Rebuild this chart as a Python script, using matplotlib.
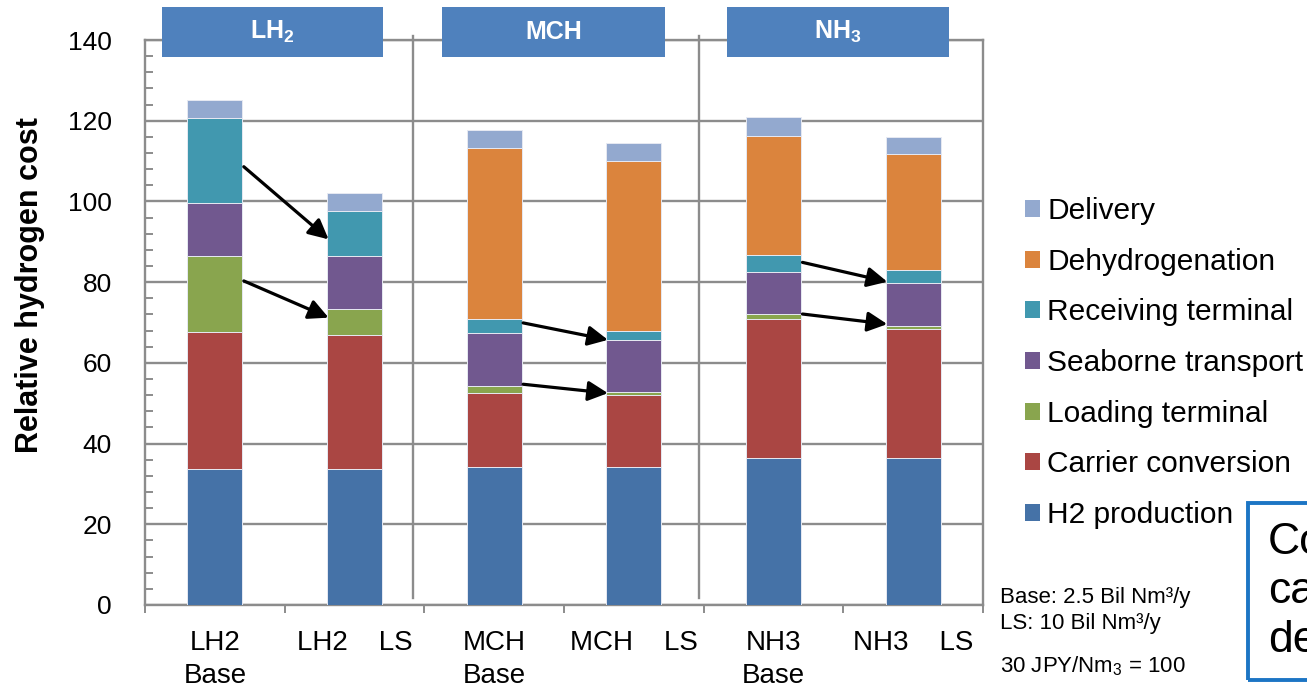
import matplotlib
matplotlib.use('Agg')
import matplotlib.pyplot as plt
from matplotlib.patches import Rectangle, Patch
from matplotlib.ticker import MultipleLocator

plt.rcParams['font.family'] = ['Liberation Sans', 'DejaVu Sans']
plt.rcParams['mathtext.fontset'] = 'custom'
plt.rcParams['mathtext.rm'] = 'Liberation Sans'
plt.rcParams['mathtext.bf'] = 'Liberation Sans:bold'
plt.rcParams['mathtext.default'] = 'regular'

# cost breakdown per case (30 JPY/Nm3 = 100)
cases = ['LH2\nBase', 'LH2    LS', 'MCH\nBase', 'MCH    LS', 'NH3\nBase', 'NH3    LS']
h2_production = [33.7, 33.7, 34.3, 34.3, 36.5, 36.5]
carrier_conversion = [34.0, 33.3, 18.3, 17.8, 34.3, 31.9]
loading_terminal = [18.9, 6.3, 1.7, 0.6, 1.2, 0.7]
seaborne_transport = [13.1, 13.1, 13.2, 12.9, 10.6, 10.6]
receiving_terminal = [21.0, 11.2, 3.4, 2.4, 4.2, 3.3]
dehydrogenation = [0.0, 0.0, 42.4, 42.1, 29.5, 28.7]
delivery = [4.4, 4.4, 4.4, 4.4, 4.5, 4.3]

stages = ['H2 production', 'Carrier conversion', 'Loading terminal',
          'Seaborne transport', 'Receiving terminal', 'Dehydrogenation', 'Delivery']
stage_values = [h2_production, carrier_conversion, loading_terminal,
                seaborne_transport, receiving_terminal, dehydrogenation, delivery]
colors = ['#4572A7', '#AA4643', '#89A54E', '#71588F', '#4198AF', '#DB843D', '#93A9CF']

carriers = ['LH$_\\mathbf{2}$', 'MCH', 'NH$_\\mathbf{3}$']

# arrows: (from case, to case, start value, end value)
arrows = [(0, 1, 108.6, 90.6), (0, 1, 80.3, 71.2),
          (2, 3, 69.9, 65.7), (2, 3, 54.7, 52.5),
          (4, 5, 84.9, 80.1), (4, 5, 72.1, 69.6)]

W, H = 1307, 698
fig = plt.figure(figsize=(W / 100, H / 100), dpi=100)
ax = fig.add_axes([145 / W, 1 - 605 / H, (983 - 145) / W, (605 - 40) / H])

grey = '#8C8C8C'
bar_w = 0.395
x = list(range(len(cases)))
bottom = [0.0] * len(cases)
for name, vals, c in zip(stages, stage_values, colors):
    ax.bar(x, vals, bar_w, bottom=bottom, color=c, edgecolor='#E6E9F2',
           linewidth=0.7, label=name, zorder=3)
    bottom = [b + v for b, v in zip(bottom, vals)]

for i, j, v0, v1 in arrows:
    ax.annotate('', xy=(j - bar_w / 2 + 0.012, v1), xytext=(i + bar_w / 2 + 0.01, v0),
                arrowprops=dict(arrowstyle='-|>', color='black', lw=2.3,
                                mutation_scale=30, shrinkA=0, shrinkB=0),
                zorder=5)

ax.set_xlim(-0.5, 5.5)
ax.set_ylim(0, 140)
ax.yaxis.set_major_locator(MultipleLocator(20))
ax.yaxis.set_minor_locator(MultipleLocator(4))
ax.yaxis.grid(True, color=grey, lw=1.7, zorder=0)
ax.set_axisbelow(True)
ax.tick_params(axis='y', which='major', length=0, pad=24, labelsize=19)
ax.tick_params(axis='y', which='minor', direction='in', length=6, width=1.4, color=grey)

ax.set_xticks(x)
ax.set_xticklabels(cases, linespacing=1.35)
ax.set_xticks([i - 0.5 for i in range(len(cases) + 1)], minor=True)
ax.tick_params(axis='x', which='major', length=0, pad=18, labelsize=20)
ax.tick_params(axis='x', which='minor', direction='out', length=6, width=1.4, color=grey)
for s in ax.spines.values():
    s.set_color(grey)
    s.set_linewidth(1.7)

# group dividers
for dx in [1.42, 3.47]:
    ax.plot([dx, dx], [1.8, 141], color=grey, lw=1.7, clip_on=False, zorder=2)

fig.text(30 / W, 1 - 285 / H, 'Relative hydrogen cost', rotation=90,
         ha='center', va='center', fontsize=22, fontweight='bold')

# carrier headers
for (x0, x1), label in zip([(162, 383), (442, 665), (727, 949)], carriers):
    fig.patches.append(Rectangle((x0 / W, 1 - 57 / H), (x1 - x0) / W, 50 / H,
                                 transform=fig.transFigure, facecolor='#4F81BD',
                                 edgecolor='none', zorder=6))
    fig.text((x0 + x1) / 2 / W, 1 - 32 / H, label, color='white', fontsize=18,
             fontweight='bold', ha='center', va='center', zorder=7)

handles = [Patch(facecolor=c, edgecolor='none') for c in colors][::-1]
fig.legend(handles, stages[::-1], loc='upper left',
           bbox_to_anchor=(1025 / W, 1 - 197 / H), frameon=False, fontsize=21.5,
           handlelength=0.5, handleheight=0.5, handletextpad=0.25,
           labelspacing=0.76, borderpad=0, borderaxespad=0)

fig.text(1000 / W, 1 - 597 / H, 'Base: 2.5 Bil Nm³/y', fontsize=16, va='center')
fig.text(1000 / W, 1 - 624 / H, 'LS: 10 Bil Nm³/y', fontsize=16, va='center')
fig.text(1000 / W, 1 - 666 / H, '30 JPY/Nm$_3$ = 100', fontsize=16, va='center')

fig.patches.append(Rectangle((1248 / W, 1 - 680 / H), 120 / W, 177 / H,
                             transform=fig.transFigure, fill=False,
                             edgecolor='#1C75C4', lw=2.8))
fig.text(1268 / W, 1 - 522 / H, 'Co\nca\nde', fontsize=32, va='top', linespacing=1.25)

fig.savefig('out.png', dpi=100)
